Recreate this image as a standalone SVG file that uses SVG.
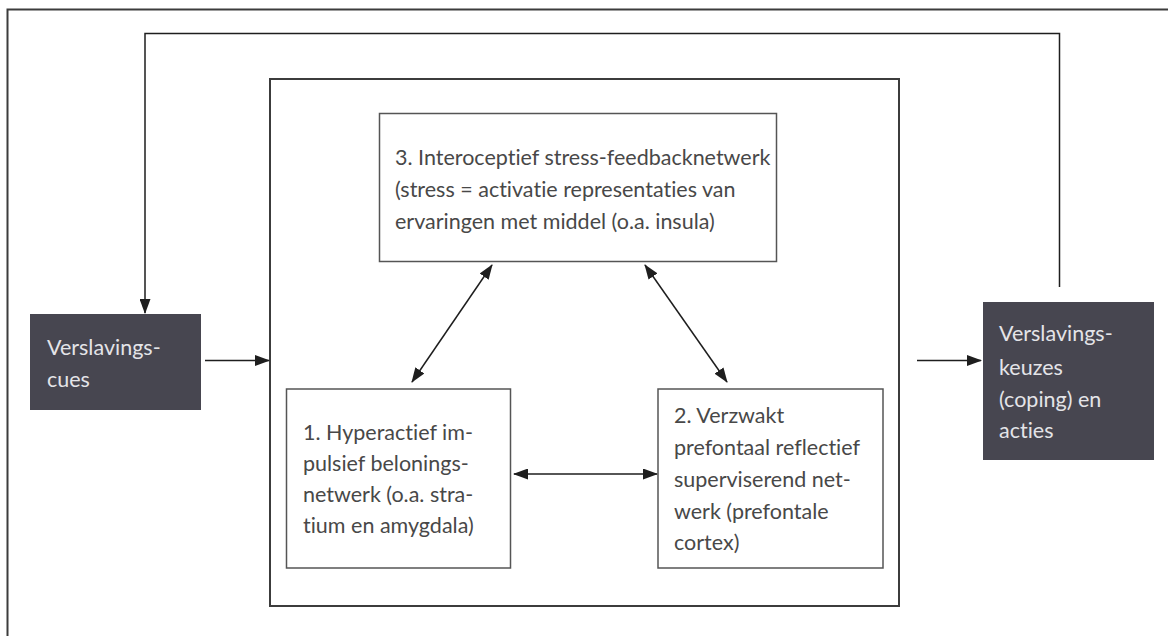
<svg xmlns="http://www.w3.org/2000/svg" width="1168" height="636" viewBox="0 0 1168 636">
<defs>
<marker id="ah" viewBox="0 0 15 11" refX="14" refY="5.5" markerWidth="15" markerHeight="11" markerUnits="userSpaceOnUse" orient="auto-start-reverse">
<path d="M0,0 L15,5.5 L0,11 Z" fill="#1e1e1e"/>
</marker>
</defs>
<style>
.frame{fill:none;stroke:#3c3c3c;stroke-width:2}
.box{fill:#fff;stroke:#555;stroke-width:1.5}
.dark{fill:#474650;stroke:none}
.t{font-family:Lato,"Open Sans",sans-serif;font-size:21.5px;fill:#484848;font-variant-ligatures:none}
.tl{font-family:Lato,"Open Sans",sans-serif;font-size:21.5px;fill:#e4e4e8;font-variant-ligatures:none}
.c{fill:none;stroke:#1e1e1e;stroke-width:1.5}
</style>
<rect width="1168" height="636" fill="#fff"/>
<path class="frame" d="M7.5,636 V9.5 H1168"/>
<g id="system">
<rect class="frame" x="270" y="79" width="629" height="527"/>
</g>
<g id="node3">
<rect class="box" x="379.5" y="113.5" width="397" height="148"/>
<text class="t" x="395" y="165">3. Interoceptief stress-feedbacknetwerk</text>
<text class="t" x="395" y="197">(stress = activatie representaties van</text>
<text class="t" x="395" y="229">ervaringen met middel (o.a. insula)</text>
</g>
<g id="node1">
<rect class="box" x="286.5" y="389" width="224" height="179"/>
<text class="t" x="303" y="440">1. Hyperactief im-</text>
<text class="t" x="303" y="471">pulsief belonings-</text>
<text class="t" x="303" y="502">netwerk (o.a. stra-</text>
<text class="t" x="303" y="533">tium en amygdala)</text>
</g>
<g id="node2">
<rect class="box" x="658" y="389" width="225" height="179"/>
<text class="t" x="674" y="423">2. Verzwakt</text>
<text class="t" x="674" y="455">prefontaal reflectief</text>
<text class="t" x="674" y="487">superviserend net-</text>
<text class="t" x="674" y="519">werk (prefontale</text>
<text class="t" x="674" y="550">cortex)</text>
</g>
<g id="cues">
<rect class="dark" x="30" y="314" width="171" height="96"/>
<text class="tl" x="47" y="355">Verslavings-</text>
<text class="tl" x="47" y="387">cues</text>
</g>
<g id="keuzes">
<rect class="dark" x="983" y="302" width="171" height="158"/>
<text class="tl" x="999" y="341">Verslavings-</text>
<text class="tl" x="999" y="375">keuzes</text>
<text class="tl" x="999" y="407">(coping) en</text>
<text class="tl" x="999" y="438">acties</text>
</g>
<g id="connectors">
<path class="c" d="M1059.5,287 V33.5 H145 V313" marker-end="url(#ah)"/>
<path class="c" d="M205,360.5 H269" marker-end="url(#ah)"/>
<path class="c" d="M917,360.5 H981" marker-end="url(#ah)"/>
<path class="c" d="M492,265 L412,382" marker-start="url(#ah)" marker-end="url(#ah)"/>
<path class="c" d="M645,265 L727,382" marker-start="url(#ah)" marker-end="url(#ah)"/>
<path class="c" d="M514,474 H657" marker-start="url(#ah)" marker-end="url(#ah)"/>
</g>
</svg>
